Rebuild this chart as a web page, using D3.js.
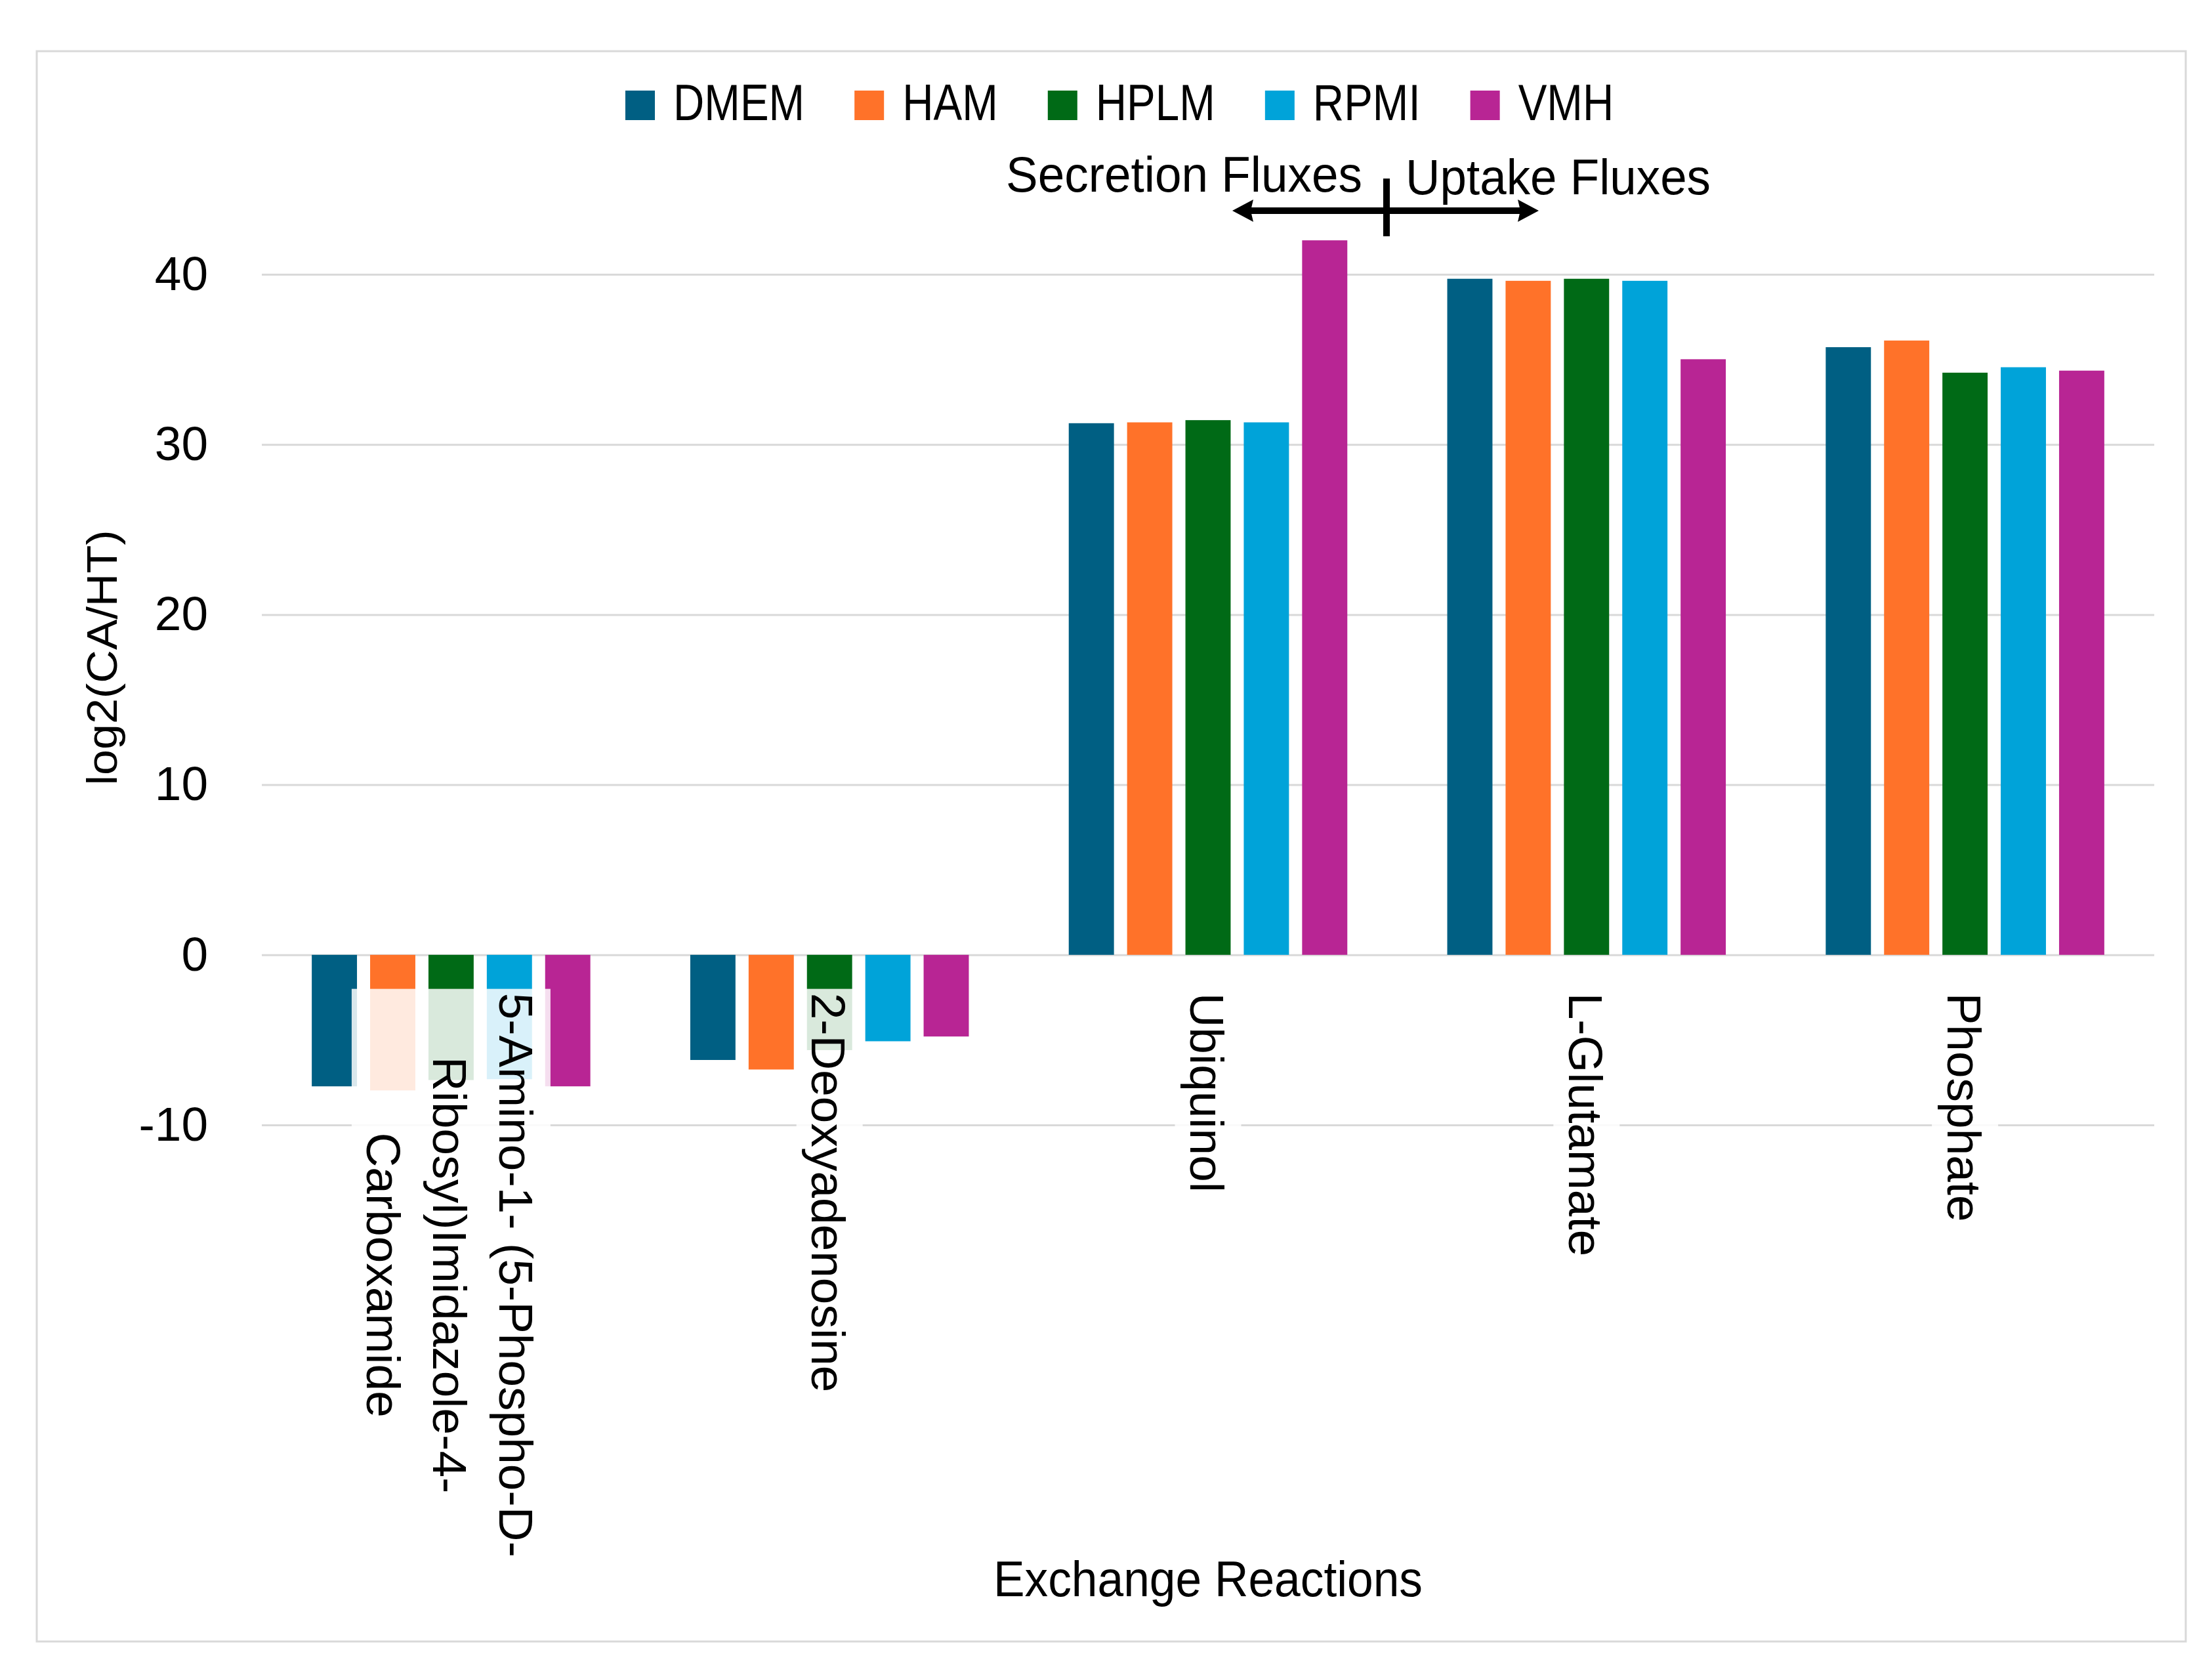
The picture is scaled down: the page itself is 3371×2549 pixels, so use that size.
<!DOCTYPE html>
<html><head><meta charset="utf-8">
<script src="https://cdn.jsdelivr.net/npm/d3@7"></script>
<style>html,body{margin:0;padding:0;background:#fff;} svg{display:block;}</style>
</head><body>
<svg id="chart" width="3371" height="2549"></svg>
<script>
// ---------- DATA ----------
const categories = ["5-Amino-1- (5-Phospho-D-Ribosyl)Imidazole-4-Carboxamide","2-Deoxyadenosine","Ubiquinol","L-Glutamate","Phosphate"];
const categoryLabelLines = [["5-Amino-1- (5-Phospho-D-","Ribosyl)Imidazole-4-","Carboxamide"],["2-Deoxyadenosine"],["Ubiquinol"],["L-Glutamate"],["Phosphate"]];
const seriesNames = ["DMEM","HAM","HPLM","RPMI","VMH"];
const DMEM = [-7.73,-6.18,31.25,39.74,35.72];
const HAM  = [-7.97,-6.74,31.30,39.62,36.11];
const HPLM = [-7.36,-5.60,31.43,39.74,34.22];
const RPMI = [-7.31,-5.08,31.30,39.62,34.54];
const VMH  = [-7.73,-4.80,42.00,35.01,34.34];
const yTicks = [-10,0,10,20,30,40];
const yTitle = "log2(CA/HT)";
const xTitle = "Exchange Reactions";
const annotLeft = "Secretion Fluxes";
const annotRight = "Uptake Fluxes";

// ---------- STYLE / LAYOUT ----------
const seriesData = [DMEM,HAM,HPLM,RPMI,VMH];
const colors = ["#005F83","#FF7229","#006A16","#00A3D9","#B82594"];
const W = 3371, H = 2549;
const arial = "'Liberation Sans', Arial, sans-serif";
const narrow = "'Liberation Sans Narrow', 'Arial Narrow', 'Liberation Sans', sans-serif";
const plot = {left:399, right:3283, top:418, bottom:1714};

const svg = d3.select("#chart");
svg.append("rect").attr("width",W).attr("height",H).attr("fill","#fff");
svg.append("rect").attr("x",56).attr("y",78).attr("width",3275).attr("height",2423)
  .attr("fill","none").attr("stroke","#D9D9D9").attr("stroke-width",3);

const x0 = d3.scaleBand().domain(categories).range([plot.left, plot.right]).paddingInner(0).paddingOuter(0);
const bw = x0.bandwidth();
const x1 = d3.scaleBand().domain(seriesNames).range([bw*0.132, bw*(1-0.132)]).paddingInner(0.225).paddingOuter(0);
const y = d3.scaleLinear().domain([-10,40]).range([plot.bottom, plot.top]);

// axis + gridlines
const gy = svg.append("g").attr("transform",`translate(${plot.left},0)`)
  .call(d3.axisLeft(y).tickValues(yTicks).tickSize(-(plot.right-plot.left)).tickPadding(82).tickFormat(d => String(d)));
gy.select(".domain").remove();
gy.selectAll(".tick line").attr("stroke","#D9D9D9").attr("stroke-width",3);
gy.selectAll(".tick text").attr("font-family",arial).attr("font-size",73).attr("fill","#000").attr("dy","0.32em");

// bars
const groups = svg.append("g").selectAll("g").data(categories).join("g")
  .attr("transform", c => `translate(${x0(c)},0)`);
groups.selectAll("rect")
  .data((c,i) => seriesNames.map((s,j) => ({s, v: seriesData[j][i], j})))
  .join("rect")
  .attr("x", d => x1(d.s))
  .attr("width", x1.bandwidth())
  .attr("y", d => y(Math.max(0,d.v)))
  .attr("height", d => Math.abs(y(d.v) - y(0)))
  .attr("fill", d => colors[d.j]);

// category labels (rotated, with translucent white boxes)
const lineH = 101;
const labelTop = y(-2) + 6;
categories.forEach((c,i) => {
  const lines = categoryLabelLines[i];
  const cx = x0(c) + bw/2;
  const g = svg.append("g").attr("transform",`translate(${cx},${labelTop}) rotate(90)`);
  const box = g.append("rect");
  const texts = lines.map((t,k) => g.append("text")
    .attr("y", 27 + (k - (lines.length-1)/2) * lineH)
    .attr("text-anchor","middle")
    .attr("font-family",arial).attr("font-size",73).attr("fill","#000")
    .text(t));
  const maxLen = d3.max(texts, t => t.node().getComputedTextLength());
  texts.forEach(t => t.attr("x", maxLen/2));
  box.attr("x",-6).attr("y",-lines.length*lineH/2)
    .attr("width",maxLen+16).attr("height",lines.length*lineH)
    .attr("fill","#fff").attr("fill-opacity",0.85);
});

// y title
svg.append("text").attr("transform","translate(178,1002) rotate(-90)")
  .attr("text-anchor","middle").attr("font-family",arial).attr("font-size",64)
  .attr("textLength",389).attr("lengthAdjust","spacingAndGlyphs").attr("fill","#000")
  .text(yTitle);

// x title
svg.append("text").attr("x",(plot.left+plot.right)/2).attr("y",2432)
  .attr("text-anchor","middle").attr("font-family",narrow).attr("font-size",76)
  .attr("textLength",654).attr("lengthAdjust","spacingAndGlyphs").attr("fill","#000")
  .text(xTitle);

// legend (condensed glyphs to mimic the narrow face)
let lx = 953;
seriesNames.forEach((s,j) => {
  svg.append("rect").attr("x",lx).attr("y",138).attr("width",45).attr("height",45).attr("fill",colors[j]);
  const t = svg.append("text").attr("x",lx+73).attr("y",183)
    .attr("font-family",narrow).attr("font-size",78).attr("fill","#000").text(s);
  let w = t.node().getComputedTextLength();
  if (w > 0) {
    const fam = window.getComputedStyle(t.node()).fontFamily;
    // compress only if regular width face was used
    const narrowW = w * 0.84;
    t.attr("textLength", narrowW).attr("lengthAdjust","spacingAndGlyphs");
    w = narrowW;
  }
  lx = lx + 73 + w + 76;
});

// annotation
svg.append("text").attr("x",1533).attr("y",292).attr("font-family",narrow).attr("font-size",76)
  .attr("textLength",543).attr("lengthAdjust","spacingAndGlyphs").attr("fill","#000").text(annotLeft);
svg.append("text").attr("x",2142).attr("y",296).attr("font-family",narrow).attr("font-size",76)
  .attr("textLength",465).attr("lengthAdjust","spacingAndGlyphs").attr("fill","#000").text(annotRight);
const ay = 321, axL = 1878, axR = 2345;
svg.append("line").attr("x1",axL+20).attr("x2",axR-20).attr("y1",ay).attr("y2",ay)
  .attr("stroke","#000").attr("stroke-width",10);
svg.append("path").attr("d",`M${axL},${ay} L${axL+32},${ay-17} L${axL+28},${ay} L${axL+32},${ay+17} Z`).attr("fill","#000");
svg.append("path").attr("d",`M${axR},${ay} L${axR-32},${ay-17} L${axR-28},${ay} L${axR-32},${ay+17} Z`).attr("fill","#000");
svg.append("line").attr("x1",2113).attr("x2",2113).attr("y1",272).attr("y2",360)
  .attr("stroke","#000").attr("stroke-width",10);
</script>
</body></html>
